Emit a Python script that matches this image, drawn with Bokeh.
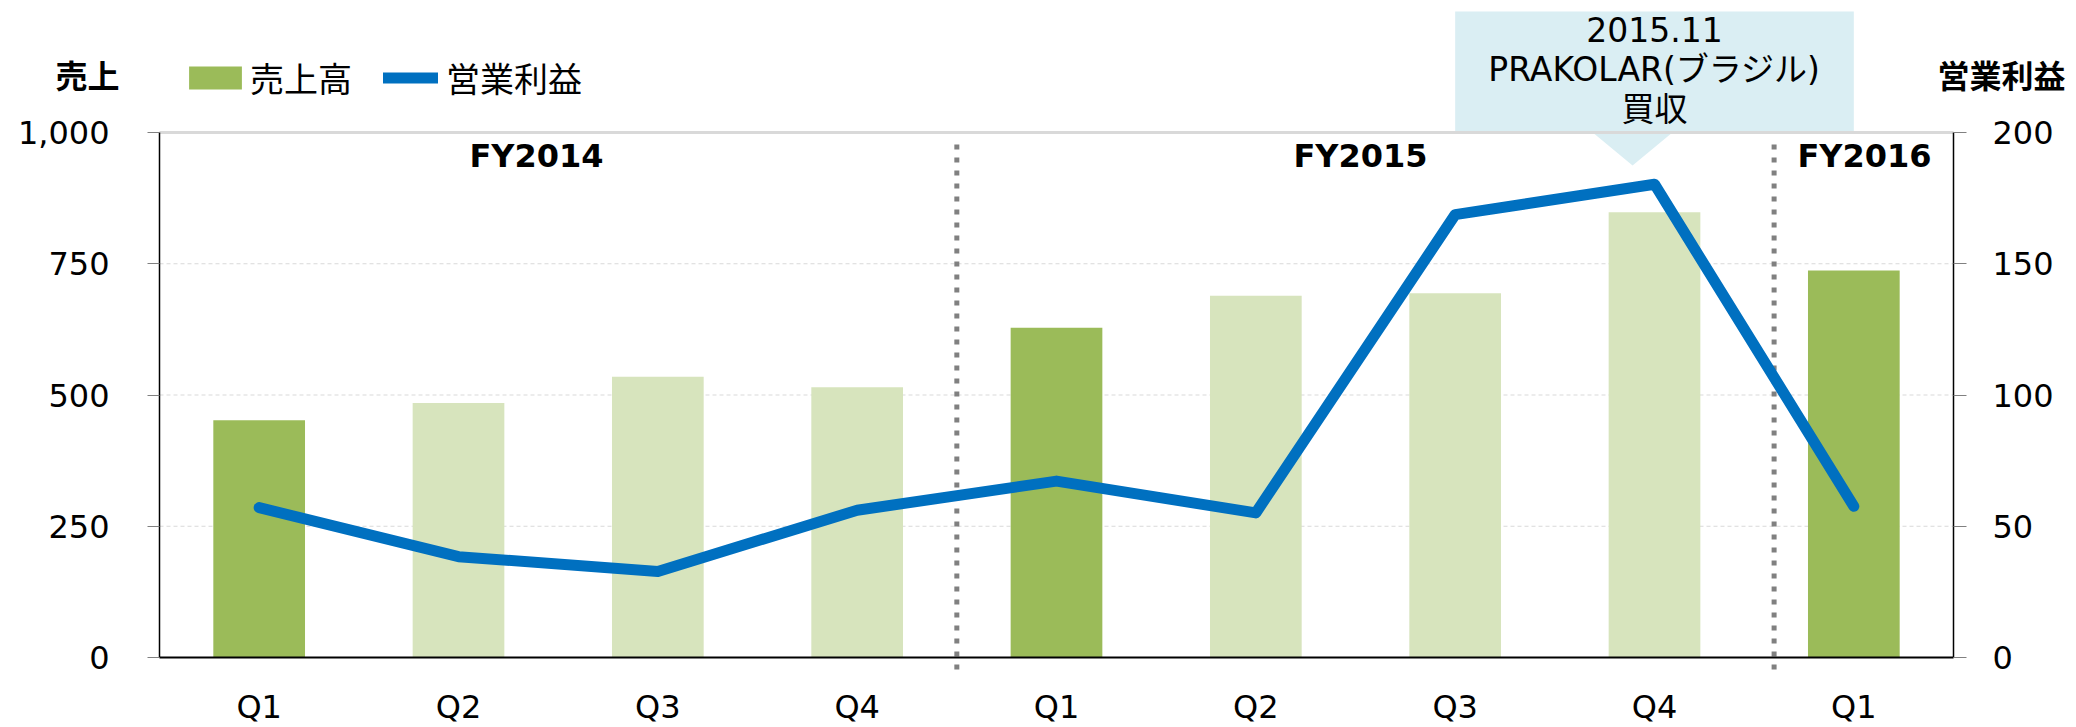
from bokeh.plotting import figure
from bokeh.models import (Range1d, LinearAxis, FixedTicker, Legend, LegendItem,
                          ColumnDataSource, NumeralTickFormatter)
from bokeh.core.properties import value
from bokeh.embed import file_html
from bokeh.resources import INLINE

# ---------------- data ----------------
quarters = ["Q1", "Q2", "Q3", "Q4", "Q1", "Q2", "Q3", "Q4", "Q1"]
fiscal_years = ["FY2014", "FY2015", "FY2016"]
sales = [452, 485, 535, 515, 628, 689, 694, 848, 737]
operating_profit = [57.1, 38.4, 32.8, 56.1, 67.2, 55.1, 168.7, 180.3, 57.6]
sales_ticks = [0, 250, 500, 750, 1000]
profit_ticks = [0, 50, 100, 150, 200]
fy_dividers = [4, 8.1]
callout_lines = ["2015.11", "PRAKOLAR(ブラジル)", "買収"]
callout_quarter = 7
legend_labels = ["売上高", "営業利益"]
left_title = "売上"
right_title = "営業利益"

# ---------------- layout (pixels of the 2076x727 canvas) ----------------
W, H = 2076, 727
PLOT_L, PLOT_R, PLOT_T, PLOT_B = 159, 1953, 132, 657
n = len(quarters)
CAT = (PLOT_R - PLOT_L) / n                       # px per category
PX_L = (PLOT_B - PLOT_T) / sales_ticks[-1]        # px per sales unit
PX_R = (PLOT_B - PLOT_T) / profit_ticks[-1]       # px per profit unit

def dy(py):          # canvas y (from top) -> sales data value
    return (PLOT_B - py) / PX_L

def dx(px):          # canvas x -> category data value
    return (px - PLOT_L) / CAT

JP = value("Noto Sans CJK JP")
MIXED = value("'DejaVu Sans', 'Noto Sans CJK JP'")
NUM = "DejaVu Sans"
DARK, LIGHT, BLUE = "#9BBB59", "#D7E4BD", "#0070C0"
GRID = "#D9D9D9"

xs = [i + 0.5 for i in range(n)]
colors = [DARK if q == "Q1" else LIGHT for q in quarters]
src = ColumnDataSource(dict(x=xs, sales=sales, profit=operating_profit, color=colors))

p = figure(frame_width=W, frame_height=H,
           min_border_left=0, min_border_right=0, min_border_top=0, min_border_bottom=0,
           x_range=Range1d(dx(0), dx(W)), y_range=Range1d(dy(H), dy(0)),
           output_backend="svg", toolbar_location=None, title=None,
           outline_line_color=None, background_fill_color="white",
           border_fill_color="white")
p.extra_y_ranges = {"profit": Range1d(-(H - PLOT_B) / PX_R, PLOT_B / PX_R)}
p.xgrid.visible = False
p.ygrid.visible = False

# ---- axes (pinned at the plot-area edges) ----
xa = p.xaxis[0]
xa.fixed_location = 0
xa.bounds = (0, n)
xa.ticker = FixedTicker(ticks=xs)
xa.major_label_overrides = {x: q for x, q in zip(xs, quarters)}
xa.major_tick_line_color = None
xa.minor_tick_line_color = None
xa.axis_line_color = "black"
xa.axis_line_width = 2
xa.major_label_text_font = NUM
xa.major_label_text_font_size = "32px"
xa.major_label_text_color = "black"
xa.major_label_standoff = 24

ya = p.yaxis[0]
ya.fixed_location = 0
ya.ticker = FixedTicker(ticks=sales_ticks)
ya.bounds = (sales_ticks[0], sales_ticks[-1])
ya.formatter = NumeralTickFormatter(format="0,0")
ya.major_tick_out = 12
ya.major_tick_in = 0
ya.major_tick_line_color = "#808080"
ya.minor_tick_line_color = None
ya.axis_line_color = "black"
ya.axis_line_width = 1.5
ya.major_label_text_font = NUM
ya.major_label_text_font_size = "32px"
ya.major_label_text_color = "black"
ya.major_label_standoff = 38

ra = LinearAxis(y_range_name="profit", ticker=FixedTicker(ticks=profit_ticks),
                bounds=(profit_ticks[0], profit_ticks[-1]), fixed_location=n)
ra.major_tick_out = 13
ra.major_tick_in = 0
ra.major_tick_line_color = "#808080"
ra.minor_tick_line_color = None
ra.axis_line_color = "black"
ra.axis_line_width = 1.5
ra.major_label_text_font = NUM
ra.major_label_text_font_size = "32px"
ra.major_label_text_color = "black"
ra.major_label_standoff = 26
p.add_layout(ra, "right")

# ---- grid lines ----
inner = sales_ticks[1:-1]
p.segment(x0=[0] * len(inner), x1=[n] * len(inner), y0=inner, y1=inner,
          line_color=GRID, line_width=1.2, line_dash="4 3")

# ---- callout box (behind data) ----
cx = xs[callout_quarter]
top_val = sales_ticks[-1]
p.quad(left=[cx - 1.0], right=[cx + 1.0], bottom=[top_val], top=[dy(11)],
       fill_color="#DAEEF3", line_color=None)
p.patch(x=[cx - 0.31, cx + 0.09, cx - 0.11], y=[top_val, top_val, dy(165)],
        fill_color="#DAEEF3", line_color=None)
line_y = [dy(29 + 40 * i) for i in range(len(callout_lines))]
p.text(x=[cx] * len(callout_lines), y=line_y, text=callout_lines,
       text_font=MIXED, text_font_size="33px", text_color="black",
       text_align="center", text_baseline="middle")

# top solid grid line
p.segment(x0=[0], x1=[n], y0=[top_val], y1=[top_val], line_color=GRID, line_width=3)

# ---- bars ----
bars = p.vbar(x="x", top="sales", width=0.46, fill_color="color",
              line_color=None, source=src)

# fiscal-year dividers
p.segment(x0=fy_dividers, y0=[dy(669)] * len(fy_dividers), x1=fy_dividers,
          y1=[dy(141)] * len(fy_dividers),
          line_color="#808080", line_width=5, line_dash="5 8")

fy_label_x = [dx(536), dx(1360), dx(1864)]
p.text(x=fy_label_x, y=[dy(155)] * len(fiscal_years), text=fiscal_years,
       text_font=value(NUM), text_font_style="bold", text_font_size="32px",
       text_color="black", text_align="center", text_baseline="middle")

# ---- line ----
line = p.line(x="x", y="profit", y_range_name="profit", source=src,
              line_color=BLUE, line_width=11, line_cap="round", line_join="round")

# ---- axis titles ----
p.text(x=[dx(87)], y=[dy(73)], text=[left_title], text_font=JP,
       text_font_style="bold", text_font_size="32px", text_color="black",
       text_align="center", text_baseline="middle")
p.text(x=[dx(2001)], y=[dy(73)], text=[right_title], text_font=JP,
       text_font_style="bold", text_font_size="32px", text_color="black",
       text_align="center", text_baseline="middle")

# ---- legends ----
common = dict(orientation="horizontal", padding=0, margin=0,
              label_text_font="Noto Sans CJK JP", label_text_font_size="34px",
              label_text_color="black", background_fill_alpha=0,
              border_line_color=None)
leg1 = Legend(items=[LegendItem(label=legend_labels[0], renderers=[bars])],
              location=(182, H - 102), glyph_width=66, glyph_height=29,
              label_standoff=2, **common)
leg2 = Legend(items=[LegendItem(label=legend_labels[1], renderers=[line])],
              location=(383, H - 102), glyph_width=55, glyph_height=29,
              label_standoff=8, **common)
p.add_layout(leg1)
p.add_layout(leg2)

open("out.html", "w").write(file_html(p, INLINE))
